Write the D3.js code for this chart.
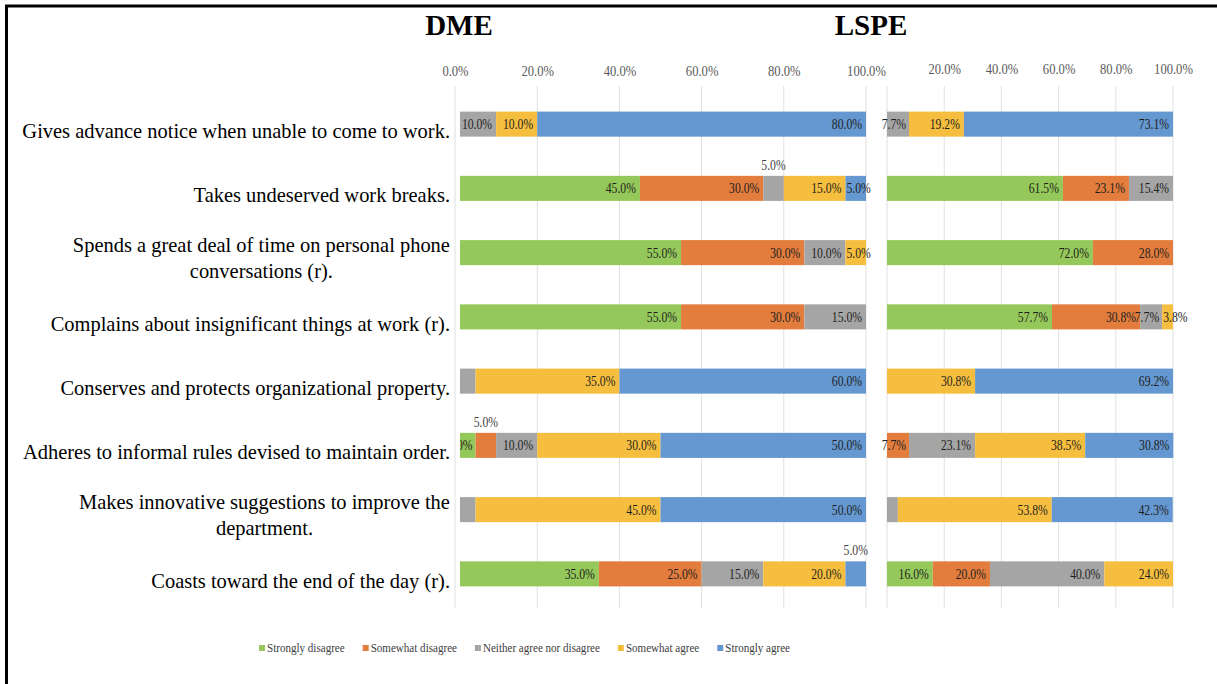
<!DOCTYPE html>
<html lang="en">
<meta charset="utf-8"/>
<head>
<style>
  body { margin: 0; background: #fff; }
</style>
</head>
<body>
<svg id="container" width="1217" height="684" font-family="'Liberation Serif', 'Times New Roman', serif"></svg>

<script src="https://d3js.org/d3.v7.min.js"></script>
<script>
// ---- data ----
let categories = [
  "Gives advance notice when unable to come to work.",
  "Takes undeserved work breaks.",
  "Spends a great deal of time on personal phone|conversations (r).",
  "Complains about insignificant things at work (r).",
  "Conserves and protects organizational property.",
  "Adheres to informal rules devised to maintain order.",
  "Makes innovative suggestions to improve the|department.",
  "Coasts toward the end of the day (r)."
]
let seriesNames = ["Strongly disagree", "Somewhat disagree", "Neither agree nor disagree", "Somewhat agree", "Strongly agree"]

let dmeStronglyDisagree = [0, 45, 55, 55, 0, 5, 0, 35]
let dmeSomewhatDisagree = [0, 30, 30, 30, 0, 5, 0, 25]
let dmeNeither          = [10, 5, 10, 15, 5, 10, 5, 15]
let dmeSomewhatAgree    = [10, 15, 5, 0, 35, 30, 45, 20]
let dmeStronglyAgree    = [80, 5, 0, 0, 60, 50, 50, 5]

let lspeStronglyDisagree = [0, 61.5, 72.0, 57.7, 0, 0, 0, 16.0]
let lspeSomewhatDisagree = [0, 23.1, 28.0, 30.8, 0, 7.7, 0, 20.0]
let lspeNeither          = [7.7, 15.4, 0, 7.7, 0, 23.1, 3.8, 40.0]
let lspeSomewhatAgree    = [19.2, 0, 0, 3.8, 30.8, 38.5, 53.8, 24.0]
let lspeStronglyAgree    = [73.1, 0, 0, 0, 69.2, 30.8, 42.3, 0]

let dmeTicks = [0, 20, 40, 60, 80, 100]
let lspeTicks = [20, 40, 60, 80, 100]

// labels the original put above the bar, or left out   [row, series]
let dmeLifted = [[1, 2], [5, 1], [7, 4]]
let dmeHidden = [[4, 2], [6, 2]]
let lspeLifted = []
let lspeHidden = [[6, 2]]

let colors = ["#95c85a", "#e27d3e", "#a5a5a5", "#f6be3f", "#6598d0"]

// ---- layout ----
let font = "'Liberation Serif', 'Times New Roman', serif"
let svg = d3.select("svg")
let fmt = d => d3.format(".1f")(d) + "%"
let sx = 0.78   // condensed look of the numbers
let catSx = 0.93

function buildRows(cols){
  return categories.map((c, i) => {
    let row = {cat: c}
    seriesNames.forEach((s, j) => row[s] = cols[j][i])
    return row
  })
}

let y = d3.scaleBand()
  .domain(categories)
  .range([92, 606])
  .paddingInner(0.61)
  .paddingOuter(0.305)

// frame
svg.append("line").attr("x1", 5).attr("x2", 1217).attr("y1", 6).attr("y2", 6)
  .attr("stroke", "#000").attr("stroke-width", 3)
svg.append("line").attr("x1", 6.5).attr("x2", 6.5).attr("y1", 5).attr("y2", 684)
  .attr("stroke", "#000").attr("stroke-width", 3)

svg.append("defs").append("clipPath").attr("id", "dmeClip")
  .append("rect").attr("x", 460).attr("y", 80).attr("width", 420).attr("height", 540)

function panel(title, titleX, cols, range, ticks, tickY, lifted, hidden, clip){
  let x = d3.scaleLinear().domain([0, 100]).range(range)
  let rows = buildRows(cols)
  let stacked = d3.stack().keys(seriesNames)(rows)

  let g = svg.append("g")

  // grid
  g.selectAll(".grid").data([0, 20, 40, 60, 80, 100]).enter().append("line")
    .attr("x1", d => x(d)).attr("x2", d => x(d))
    .attr("y1", 86).attr("y2", 608)
    .attr("stroke", "#e0e0e0").attr("stroke-width", 1)

  // axis labels
  let axis = g.append("g").attr("transform", "translate(0," + tickY + ")")
    .call(d3.axisTop(x).tickValues(ticks).tickFormat(fmt).tickSize(0).tickPadding(0))
  axis.attr("font-family", font)
  axis.select(".domain").remove()
  axis.selectAll("text")
    .attr("font-size", 15).attr("fill", "#595959")
    .attr("transform", "scale(0.84,1)")

  // title
  svg.append("text").text(title)
    .attr("x", titleX).attr("y", 35)
    .attr("text-anchor", "middle").attr("font-weight", "bold")
    .attr("font-size", 29).attr("fill", "#000")

  let plot = g.append("g")
  if (clip) plot.attr("clip-path", "url(#" + clip + ")")

  stacked.forEach((layer, j) => {
    plot.selectAll(null).data(layer).enter().append("rect")
      .attr("x", d => x(d[0]))
      .attr("width", d => x(d[1]) - x(d[0]))
      .attr("y", d => y(d.data.cat))
      .attr("height", y.bandwidth())
      .attr("fill", colors[j])
  })

  // value labels
  let isIn = (list, i, j) => list.some(p => p[0] == i && p[1] == j)
  stacked.forEach((layer, j) => {
    layer.forEach((d, i) => {
      let v = d[1] - d[0]
      if (v <= 0 || isIn(hidden, i, j)) return
      let x0 = x(d[0]), x1 = x(d[1])
      let top = y(d.data.cat), mid = top + y.bandwidth() / 2
      let t = plot.append("text").text(fmt(v))
        .attr("font-size", 15).attr("fill", "#1e1e1e")
      let w = t.node().getComputedTextLength() * sx
      let last = seriesNames.slice(j + 1).every(s => d.data[s] == 0)
      let px, py = mid + 5, anchor = "end"
      if (isIn(lifted, i, j)) {
        anchor = "middle"; px = (x0 + x1) / 2; py = top - 6
        t.attr("fill", "#404040")
      } else if (w + 6 <= x1 - x0) {
        px = x1 - 4
      } else if (last) {
        anchor = "start"; px = x0 + 1
      } else {
        px = x1 - 3
      }
      t.attr("text-anchor", anchor)
        .attr("transform", "translate(" + px + "," + py + ") scale(" + sx + ",1)")
    })
  })
}

panel("DME", 459, [dmeStronglyDisagree, dmeSomewhatDisagree, dmeNeither, dmeSomewhatAgree, dmeStronglyAgree],
  [455, 866], dmeTicks, 76, dmeLifted, dmeHidden, "dmeClip")
panel("LSPE", 871, [lspeStronglyDisagree, lspeSomewhatDisagree, lspeNeither, lspeSomewhatAgree, lspeStronglyAgree],
  [887, 1173], lspeTicks, 74, lspeLifted, lspeHidden, null)

// category labels
let catG = svg.append("g")
let place = (t, px, py) => t.attr("transform", "translate(" + px + "," + py + ") scale(" + catSx + ",1)")
categories.forEach(c => {
  let lines = c.split("|")
  let mid = y(c) + y.bandwidth() / 2
  if (lines.length == 1) {
    place(catG.append("text").text(lines[0])
      .attr("text-anchor", "end").attr("font-size", 22).attr("fill", "#000"), 450, mid + 14)
  } else {
    let first = catG.append("text").text(lines[0])
      .attr("font-size", 22).attr("fill", "#000").attr("text-anchor", "middle")
    let w = first.node().getComputedTextLength() * catSx
    let cx = 450 - w / 2
    place(first, cx, mid - 1)
    place(catG.append("text").text(lines[1]).attr("text-anchor", "middle")
      .attr("font-size", 22).attr("fill", "#000"), cx, mid + 25)
  }
})

// legend
let lx = 259
let leg = svg.append("g")
seriesNames.forEach((s, j) => {
  leg.append("rect").attr("x", lx).attr("y", 645).attr("width", 6).attr("height", 6).attr("fill", colors[j])
  let t = leg.append("text").text(s).attr("font-size", 13.5).attr("fill", "#404040")
    .attr("transform", "translate(" + (lx + 8) + ",652) scale(0.82,1)")
  lx += 8 + t.node().getComputedTextLength() * 0.82 + 18
})
</script>
</body>
</html>
